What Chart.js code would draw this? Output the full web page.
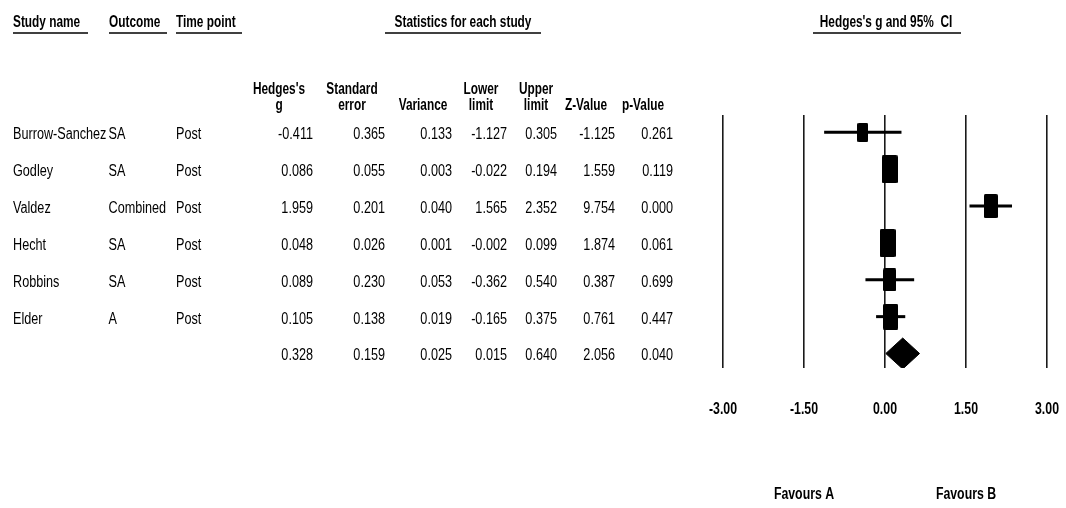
<!DOCTYPE html>
<html>
<head>
<meta charset="utf-8">
<title>Hedges's g forest plot</title>
<script src="https://cdn.jsdelivr.net/npm/chart.js@4.4.1/dist/chart.umd.min.js"></script>
<style>
  html, body { margin: 0; padding: 0; background: #fff; overflow: hidden; }
  #wrap { width: 1066px; height: 508px; }
</style>
</head>
<body>
<div id="wrap"><canvas id="forest" width="1066" height="508"></canvas></div>
<script>
// Per-study statistics; the final row is the pooled estimate.
const studyNames = ['Burrow-Sanchez', 'Godley', 'Valdez', 'Hecht', 'Robbins', 'Elder', ''];
const outcomes   = ['SA', 'SA', 'Combined', 'SA', 'SA', 'A', ''];
const timePoints = ['Post', 'Post', 'Post', 'Post', 'Post', 'Post', ''];
const hedgesG    = [-0.411, 0.086, 1.959, 0.048, 0.089, 0.105, 0.328];
const stdError   = [0.365, 0.055, 0.201, 0.026, 0.230, 0.138, 0.159];
const variance   = [0.133, 0.003, 0.040, 0.001, 0.053, 0.019, 0.025];
const lowerLimit = [-1.127, -0.022, 1.565, -0.002, -0.362, -0.165, 0.015];
const upperLimit = [0.305, 0.194, 2.352, 0.099, 0.540, 0.375, 0.640];
const zValue     = [-1.125, 1.559, 9.754, 1.874, 0.387, 0.761, 2.056];
const pValue     = [0.261, 0.119, 0.000, 0.061, 0.699, 0.447, 0.040];
const axisTicks  = [-3.00, -1.50, 0.00, 1.50, 3.00];
const favourLabels = ['Favours A', 'Favours B'];
const favourAt     = [-1.50, 1.50];

const nStudies = studyNames.length - 1;   // rows before the pooled row
const pooledRow = nStudies;

// --- font handling: a condensed sans, falling back to a horizontally squeezed one ---
const probe = document.createElement('canvas').getContext('2d');
function fontExists(name) {
  const s = 'Burrow-Sanchez 0.365 Hedges';
  probe.font = '20px monospace';
  const a = probe.measureText(s).width;
  probe.font = '20px "' + name + '", monospace';
  return probe.measureText(s).width !== a;
}
const NARROW = fontExists('Liberation Sans Narrow');
const FAMILY = NARROW ? '"Liberation Sans Narrow", "Liberation Sans", Arial, sans-serif'
                      : '"Liberation Sans", Arial, sans-serif';
const squeeze = f => (NARROW ? Math.min(1, f / 0.82) : f);

// text styles: [weight, size, horizontal squeeze]
const STYLE = {
  head: ['bold', 16, squeeze(0.74)],
  body: ['normal', 16, squeeze(0.79)],
  axis: ['bold', 16, squeeze(0.77)]
};
const TEXT_DY = 1.5; // optical centring of 'middle' baseline

function text(ctx, str, x, y, align, style) {
  const [weight, size, sx] = STYLE[style];
  ctx.save();
  ctx.font = weight + ' ' + size + 'px ' + FAMILY;
  ctx.fillStyle = '#000';
  ctx.textAlign = align;
  ctx.textBaseline = 'middle';
  ctx.translate(x, y + TEXT_DY);
  ctx.scale(sx, 1);
  ctx.fillText(str, 0, 0);
  ctx.restore();
}
function hline(ctx, x1, x2, y) {
  ctx.save();
  ctx.strokeStyle = '#000';
  ctx.lineWidth = 1.5;
  ctx.beginPath();
  ctx.moveTo(x1, y);
  ctx.lineTo(x2, y);
  ctx.stroke();
  ctx.restore();
}

// --- random-effects (DerSimonian-Laird) weights set the size of each study box ---
function randomEffectsWeights() {
  const v = stdError.slice(0, nStudies).map(s => s * s);
  const w = v.map(x => 1 / x);
  const sum = a => a.reduce((p, c) => p + c, 0);
  const W = sum(w);
  const mean = sum(w.map((wi, i) => wi * hedgesG[i])) / W;
  const Q = sum(w.map((wi, i) => wi * (hedgesG[i] - mean) ** 2));
  const C = W - sum(w.map(x => x * x)) / W;
  const tau2 = Math.max(0, (Q - (nStudies - 1)) / C);
  return v.map(x => 1 / (x + tau2));
}
const weights = randomEffectsWeights();
const maxWeight = Math.max(...weights);
const BOX_MAX_H = 28, BOX_ASPECT = 0.57;

function boxImage(weight) {
  const h = Math.round(BOX_MAX_H * Math.sqrt(weight / maxWeight));
  const w = Math.round(h * BOX_ASPECT);
  const c = document.createElement('canvas');
  c.width = w; c.height = h;
  const g = c.getContext('2d');
  g.fillStyle = '#000';
  g.beginPath();
  if (g.roundRect) g.roundRect(0, 0, w, h, 1.5); else g.rect(0, 0, w, h);
  g.fill();
  return c;
}

// --- datasets ---
const studyRows = studyNames.slice(0, nStudies).map((_, i) => i);

const boxDataset = {
  label: 'Study estimate',
  data: studyRows.map(i => ({ x: hedgesG[i], y: i })),
  pointStyle: studyRows.map(i => boxImage(weights[i])),
  pointRadius: 5,
  showLine: false,
  order: 0
};

const DIAMOND_HALF = 0.42; // half height in row units
const diamondDataset = {
  label: 'Pooled estimate',
  data: [
    { x: lowerLimit[pooledRow], y: pooledRow },
    { x: hedgesG[pooledRow],   y: pooledRow - DIAMOND_HALF },
    { x: upperLimit[pooledRow], y: pooledRow },
    { x: hedgesG[pooledRow],   y: pooledRow + DIAMOND_HALF },
    { x: lowerLimit[pooledRow], y: pooledRow }
  ],
  showLine: true,
  fill: 'shape',
  backgroundColor: '#000',
  borderColor: '#000',
  borderWidth: 1,
  pointRadius: 0,
  tension: 0,
  order: 1
};

const ciDatasets = studyRows.map(i => ({
  label: studyNames[i] + ' 95% CI',
  data: [{ x: lowerLimit[i], y: i }, { x: upperLimit[i], y: i }],
  showLine: true,
  borderColor: '#000',
  borderWidth: 3,
  borderCapStyle: 'butt',
  pointRadius: 0,
  fill: false,
  order: 2
}));

// --- table drawn beside the plot, rows placed with the chart's y scale ---
const numCols = [
  { values: hedgesG,    right: 313, head: ['Hedges\'s', 'g'],   cx: 279 },
  { values: stdError,   right: 385, head: ['Standard', 'error'], cx: 352 },
  { values: variance,   right: 452, head: ['', 'Variance'],     cx: 423 },
  { values: lowerLimit, right: 507, head: ['Lower', 'limit'],   cx: 481 },
  { values: upperLimit, right: 557, head: ['Upper', 'limit'],   cx: 536 },
  { values: zValue,     right: 615, head: ['', 'Z-Value'],      cx: 586 },
  { values: pValue,     right: 673, head: ['', 'p-Value'],      cx: 643 }
];
const textCols = [
  { values: studyNames, left: 13 },
  { values: outcomes,   left: 108.5 },
  { values: timePoints, left: 176 }
];

const tablePlugin = {
  id: 'studyTable',
  afterDraw(chart) {
    const { ctx, scales: { x, y }, chartArea } = chart;

    // group headings
    text(ctx, 'Study name', 13, 21, 'left', 'head');
    hline(ctx, 13, 88, 33);
    text(ctx, 'Outcome', 109, 21, 'left', 'head');
    hline(ctx, 109, 167, 33);
    text(ctx, 'Time point', 176, 21, 'left', 'head');
    hline(ctx, 176, 242, 33);
    text(ctx, 'Statistics for each study', 463, 21, 'center', 'head');
    hline(ctx, 385, 541, 33);
    const plotMid = (chartArea.left + chartArea.right) / 2;
    text(ctx, 'Hedges\'s g and 95%  CI', plotMid + 1, 21, 'center', 'head');
    hline(ctx, plotMid - 72, plotMid + 76, 33);

    // column headings
    numCols.forEach(c => {
      if (c.head[0]) text(ctx, c.head[0], c.cx, 88, 'center', 'head');
      text(ctx, c.head[1], c.cx, 104, 'center', 'head');
    });

    // body rows
    studyNames.forEach((_, i) => {
      const py = y.getPixelForValue(i) + 1;
      textCols.forEach(c => { if (c.values[i]) text(ctx, c.values[i], c.left, py, 'left', 'body'); });
      numCols.forEach(c => text(ctx, c.values[i].toFixed(3), c.right, py, 'right', 'body'));
    });

    // x-axis tick labels, placed by the x scale
    x.ticks.forEach(t => {
      text(ctx, Number(t.value).toFixed(2), x.getPixelForValue(t.value), 408, 'center', 'axis');
    });

    // direction labels under the axis
    favourLabels.forEach((lab, k) => {
      text(ctx, lab, x.getPixelForValue(favourAt[k]), 493, 'center', 'axis');
    });
  }
};

new Chart(document.getElementById('forest'), {
  type: 'scatter',
  data: { datasets: [boxDataset, diamondDataset, ...ciDatasets] },
  options: {
    responsive: false,
    animation: false,
    layout: { padding: { left: 723, right: 19, top: 115, bottom: 0 } },
    plugins: { legend: { display: false }, tooltip: { enabled: false } },
    scales: {
      x: {
        type: 'linear',
        min: axisTicks[0],
        max: axisTicks[axisTicks.length - 1],
        afterBuildTicks: s => { s.ticks = axisTicks.map(v => ({ value: v })); },
        afterFit: s => { s.height = 140; },
        ticks: { display: false },
        grid: { color: '#1a1a1a', lineWidth: 1.6, drawTicks: false },
        border: { display: false }
      },
      y: {
        type: 'linear',
        display: false,
        reverse: true,
        min: -0.469,
        max: 6.393
      }
    }
  },
  plugins: [tablePlugin]
});
</script>
</body>
</html>
